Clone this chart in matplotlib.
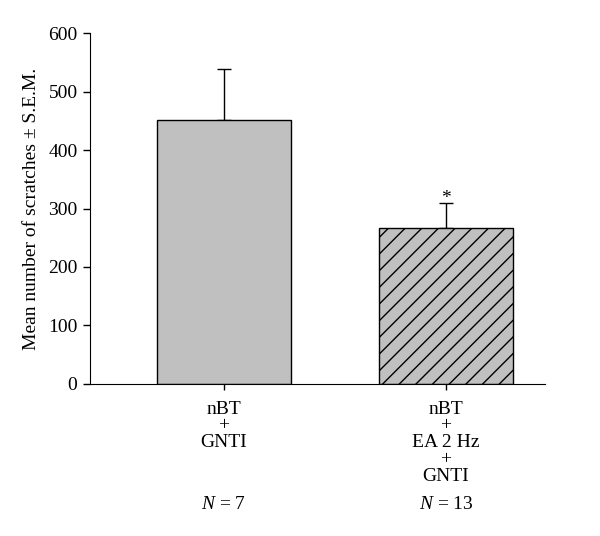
import matplotlib.pyplot as plt
import numpy as np

plt.rcParams['font.family'] = ['Liberation Serif', 'DejaVu Serif']
plt.rcParams['mathtext.fontset'] = 'custom'
plt.rcParams['mathtext.it'] = 'Liberation Serif:italic'
plt.rcParams['mathtext.rm'] = 'Liberation Serif'

groups = ['nBT\n+\nGNTI', 'nBT\n+\nEA 2 Hz\n+\nGNTI']
means = [451, 267]
sem = [87, 42]
n_labels = ['$N$ = 7', '$N$ = 13']
hatches = ['', '//']

fig = plt.figure(figsize=(6, 5.36), dpi=100)
ax = fig.add_axes([0.15, 0.2836, 0.758, 0.6548])

x = np.arange(len(means))
for i in range(len(means)):
    ax.bar(x[i], means[i], width=0.604, color='#c0c0c0', edgecolor='black',
           linewidth=1.0, hatch=hatches[i], zorder=2)
    ax.errorbar(x[i], means[i], yerr=[[0], [sem[i]]], fmt='none', ecolor='black',
                elinewidth=1.0, capsize=5, capthick=1.0, zorder=1)

# significance mark
ax.text(x[1], means[1] + sem[1] - 6, '*', ha='center', va='bottom', fontsize=14)

ax.set_xlim(-0.604, 1.446)
ax.set_ylim(0, 600)
ax.set_yticks(range(0, 601, 100))
ax.set_xticks(x)
ax.set_xticklabels(groups, fontsize=14, linespacing=0.98)
ax.tick_params(axis='y', labelsize=14, direction='out', length=5, width=1, pad=4)
ax.tick_params(axis='x', direction='out', length=4, width=1, pad=8)
ax.spines['top'].set_visible(False)
ax.spines['right'].set_visible(False)
ax.set_ylabel('Mean number of scratches \u00b1 S.E.M.', fontsize=14, labelpad=6)

for i, lab in enumerate(n_labels):
    ax.text(x[i], -0.342, lab, transform=ax.get_xaxis_transform(), ha='center',
            va='center', fontsize=14)

fig.savefig('out.png', dpi=100)
